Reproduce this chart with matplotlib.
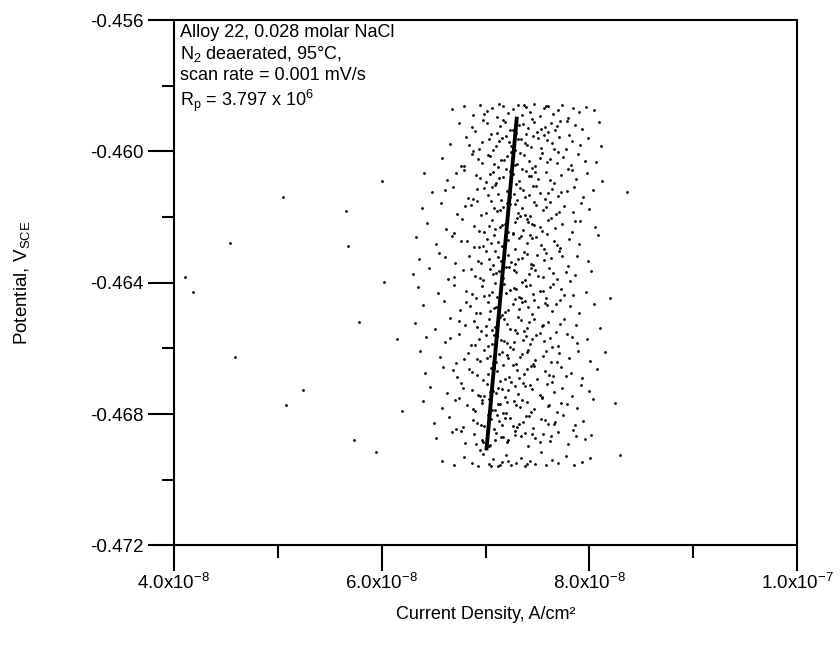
import matplotlib
matplotlib.use('Agg')
import matplotlib.pyplot as plt
from matplotlib.ticker import MultipleLocator

plt.rcParams['font.family'] = ['Liberation Sans', 'DejaVu Sans']
plt.rcParams['mathtext.default'] = 'regular'

# current density in 1e-8 A/cm2 and potential in mV(SCE)
cur_bands = [
    [6.68, 6.79, 6.88, 6.95, 7.01, 7.06, 7.11, 7.17, 7.22, 7.26, 7.31, 7.35, 7.39, 7.43, 7.47,
     7.52, 7.56, 7.60, 7.65, 7.70, 7.74, 7.79, 7.84, 7.90, 7.97, 8.04, 7.13, 7.37, 7.58, 6.99],
    [6.74, 6.90, 6.98, 7.05, 7.14, 7.19, 7.24, 7.29, 7.36, 7.41, 7.45, 7.50, 7.57, 7.63, 7.67, 7.72, 7.80, 7.86, 7.93, 8.09],
    [6.66, 6.81, 6.94, 7.03, 7.10, 7.16, 7.23, 7.28, 7.34, 7.40, 7.46, 7.53, 7.59, 7.64, 7.71, 7.77, 7.83, 7.91, 7.99, 6.88],
    [6.58, 6.76, 6.87, 6.97, 7.04, 7.12, 7.18, 7.25, 7.30, 7.37, 7.42, 7.48, 7.54, 7.62, 7.69, 7.75, 7.82, 7.89, 7.96, 8.06],
    [6.41, 6.63, 6.79, 6.91, 7.00, 7.07, 7.13, 7.20, 7.26, 7.32, 7.39, 7.44, 7.51, 7.58, 7.66, 7.73, 7.79, 7.87, 7.98, 8.12],
    [6.48, 6.69, 6.83, 6.92, 7.02, 7.09, 7.15, 7.21, 7.27, 7.33, 7.38, 7.46, 7.52, 7.57, 7.64, 7.70, 7.78, 7.85, 7.94, 8.03],
    [6.39, 6.57, 6.73, 6.86, 6.96, 7.05, 7.11, 7.17, 7.24, 7.31, 7.35, 7.43, 7.49, 7.55, 7.62, 7.68, 7.76, 7.84, 7.92, 8.00],
    [6.44, 6.62, 6.77, 6.89, 6.99, 7.06, 7.14, 7.19, 7.26, 7.30, 7.36, 7.41, 7.47, 7.54, 7.60, 7.67, 7.74, 7.83, 7.91, 8.05],
    [6.33, 6.52, 6.68, 6.82, 6.94, 7.01, 7.08, 7.16, 7.22, 7.28, 7.34, 7.40, 7.45, 7.53, 7.59, 7.66, 7.72, 7.80, 7.90, 8.08],
    [6.36, 6.55, 6.71, 6.84, 6.93, 7.00, 7.07, 7.12, 7.18, 7.25, 7.31, 7.37, 7.44, 7.50, 7.56, 7.63, 7.71, 7.79, 7.88, 7.99],
    [6.30, 6.46, 6.64, 6.78, 6.90, 6.98, 7.04, 7.10, 7.17, 7.23, 7.29, 7.35, 7.42, 7.48, 7.55, 7.61, 7.69, 7.77, 7.86, 8.02],
    [6.35, 6.54, 6.70, 6.81, 6.91, 6.97, 7.03, 7.09, 7.15, 7.20, 7.27, 7.32, 7.39, 7.46, 7.52, 7.58, 7.65, 7.73, 7.84, 7.97],
    [6.40, 6.60, 6.75, 6.85, 6.95, 7.02, 7.08, 7.13, 7.19, 7.26, 7.32, 7.38, 7.45, 7.51, 7.57, 7.64, 7.72, 7.81, 7.90, 8.04],
    [6.32, 6.51, 6.66, 6.80, 6.89, 6.96, 7.03, 7.09, 7.14, 7.21, 7.28, 7.34, 7.40, 7.47, 7.54, 7.60, 7.68, 7.76, 7.87, 8.10],
    [6.43, 6.61, 6.74, 6.86, 6.94, 7.00, 7.06, 7.11, 7.18, 7.24, 7.30, 7.36, 7.43, 7.49, 7.56, 7.62, 7.70, 7.78, 7.88, 7.98],
    [6.37, 6.56, 6.72, 6.83, 6.92, 6.99, 7.04, 7.10, 7.16, 7.22, 7.29, 7.35, 7.41, 7.48, 7.55, 7.63, 7.71, 7.80, 7.89, 8.01],
    [6.42, 6.59, 6.73, 6.84, 6.92, 6.98, 7.05, 7.11, 7.17, 7.23, 7.30, 7.37, 7.44, 7.50, 7.57, 7.65, 7.73, 7.82, 7.93, 8.07],
    [6.47, 6.63, 6.76, 6.87, 6.95, 7.01, 7.07, 7.12, 7.19, 7.25, 7.31, 7.38, 7.45, 7.52, 7.59, 7.66, 7.74, 7.83, 7.92, 8.00],
    [6.40, 6.58, 6.71, 6.82, 6.90, 6.97, 7.03, 7.09, 7.14, 7.20, 7.27, 7.33, 7.40, 7.47, 7.54, 7.61, 7.69, 7.78, 7.88, 8.03],
    [6.50, 6.65, 6.78, 6.88, 6.96, 7.02, 7.08, 7.13, 7.19, 7.26, 7.32, 7.39, 7.46, 7.53, 7.60, 7.67, 7.75, 7.84, 7.94, 7.86],
    [6.52, 6.68, 6.80, 6.89, 6.97, 7.04, 7.10, 7.15, 7.21, 7.28, 7.34, 7.41, 7.48, 7.55, 7.62, 7.70, 7.79, 7.87, 7.96, 8.02],
    [6.58, 6.70, 6.79, 6.87, 6.93, 6.98, 7.03, 7.07, 7.12, 7.16, 7.20, 7.25, 7.29, 7.34, 7.38,
     7.43, 7.48, 7.53, 7.58, 7.64, 7.70, 7.77, 7.85, 7.93, 8.01, 7.05, 7.22, 7.40, 6.95, 7.14],
    # denser points near the middle of the cloud
    [6.87, 7.01, 7.11, 7.17, 7.26, 7.32, 7.39, 7.47, 7.53, 7.60, 7.69, 7.78],
    [7.20, 6.97, 7.44, 7.07, 7.31, 7.56, 6.84, 7.13, 7.66, 7.38, 7.25, 7.51],
    [7.08, 7.33, 6.93, 7.45, 7.21, 7.59, 6.79, 7.15, 7.70, 7.28, 7.52, 7.02],
    [7.24, 6.95, 7.42, 7.10, 7.35, 6.72, 7.62, 7.17, 7.48, 7.04, 7.29, 7.83],
    [7.12, 7.36, 6.88, 7.49, 7.24, 7.60, 6.99, 7.30, 7.73, 7.06, 7.42, 6.61],
    [7.28, 7.00, 7.47, 7.14, 7.38, 6.80, 7.58, 7.21, 7.71, 6.92, 7.33, 7.08],
    [7.16, 7.40, 6.94, 7.52, 7.28, 6.70, 7.63, 7.09, 7.45, 7.22, 7.86, 7.03],
    [7.19, 6.89, 7.43, 7.05, 7.32, 7.56, 6.76, 7.26, 7.69, 7.12, 7.49, 6.98],
    [7.22, 6.96, 7.35, 7.09, 7.46, 6.61, 7.58, 7.15, 7.74, 7.28, 7.03, 7.40],
    [7.13, 7.38, 6.86, 7.51, 7.20, 7.65, 6.95, 7.27, 7.81, 7.07, 7.44, 6.70],
    [7.24, 6.99, 7.43, 7.06, 7.34, 7.62, 6.87, 7.18, 7.55, 7.11, 7.29, 7.76],
    [7.10, 7.35, 6.91, 7.47, 7.22, 7.59, 6.81, 7.16, 7.68, 7.04, 7.41, 7.28],
    [7.18, 6.92, 7.42, 7.06, 7.31, 7.55, 6.74, 7.24, 7.72, 7.12, 7.37, 7.00],
    [7.15, 7.39, 6.90, 7.52, 7.27, 6.66, 7.64, 7.08, 7.45, 7.21, 7.83, 7.02],
    [7.21, 6.95, 7.40, 7.07, 7.33, 7.58, 6.79, 7.13, 7.69, 7.26, 7.01, 7.46],
    [7.08, 7.32, 6.87, 7.47, 7.19, 7.61, 6.69, 7.26, 7.77, 7.02, 7.40, 7.14],
    [7.16, 6.93, 7.36, 7.04, 7.28, 7.54, 6.78, 7.10, 7.64, 7.22, 7.43, 6.99],
    [7.12, 7.35, 6.88, 7.44, 7.21, 7.60, 6.74, 7.06, 7.73, 7.17, 7.29, 6.97],
    [7.05, 7.30, 6.92, 7.42, 7.16, 7.57, 6.72, 7.11, 7.66, 7.24, 6.99, 7.36],
    [7.09, 7.28, 6.91, 7.38, 7.17, 7.52, 6.76, 7.03, 7.63, 7.22, 7.45, 6.98],
    # stray points away from the main cloud
    [4.54, 4.11, 4.18, 4.59, 5.05, 5.08, 5.24, 5.66, 5.68, 5.78, 5.73, 6.02, 6.00, 5.95,
     8.36, 8.20, 8.25, 8.29, 8.11, 6.15, 6.20, 8.15],
]
pot_bands = [
    [-458.71, -458.62, -458.90, -458.58, -458.77, -458.66, -458.95, -458.60, -458.83, -458.69,
     -458.57, -458.88, -458.64, -458.79, -458.55, -458.92, -458.68, -458.61, -458.85, -458.73,
     -458.59, -458.97, -458.66, -458.80, -458.63, -458.74, -458.56, -458.58, -458.62, -458.86],
    [-459.12, -459.38, -459.05, -459.47, -459.21, -459.09, -459.33, -459.44, -459.16, -459.28,
     -459.02, -459.41, -459.24, -459.13, -459.36, -459.07, -459.49, -459.19, -459.30, -459.10],
    [-459.77, -459.55, -459.91, -459.63, -459.84, -459.58, -459.70, -459.96, -459.61, -459.79,
     -459.52, -459.88, -459.66, -459.74, -459.57, -459.93, -459.69, -459.81, -459.60, -459.99],
    [-460.21, -460.43, -460.08, -460.34, -460.15, -460.47, -460.26, -460.03, -460.39, -460.12,
     -460.30, -460.45, -460.06, -460.24, -460.36, -460.18, -460.41, -460.09, -460.28, -460.33],
    [-460.66, -460.88, -460.55, -460.73, -460.94, -460.61, -460.80, -460.52, -460.69, -460.91,
     -460.58, -460.76, -460.85, -460.63, -460.97, -460.71, -460.54, -460.83, -460.67, -460.90],
    [-461.24, -461.07, -461.42, -461.15, -461.33, -461.02, -461.48, -461.19, -461.29, -461.11,
     -461.38, -461.05, -461.26, -461.45, -461.13, -461.35, -461.21, -461.09, -461.40, -461.17],
    [-461.73, -461.56, -461.89, -461.64, -461.95, -461.52, -461.81, -461.68, -461.59, -461.86,
     -461.71, -461.98, -461.62, -461.78, -461.54, -461.92, -461.66, -461.83, -461.57, -461.75],
    [-462.18, -462.36, -462.05, -462.27, -462.44, -462.10, -462.31, -462.22, -462.48, -462.03,
     -462.39, -462.14, -462.25, -462.42, -462.08, -462.33, -462.20, -462.46, -462.12, -462.29],
    [-462.61, -462.83, -462.57, -462.74, -462.92, -462.66, -462.53, -462.88, -462.70, -462.96,
     -462.59, -462.78, -462.64, -462.86, -462.52, -462.72, -462.94, -462.68, -462.81, -462.55],
    [-463.27, -463.09, -463.41, -463.18, -463.33, -463.04, -463.46, -463.22, -463.12, -463.38,
     -463.29, -463.06, -463.44, -463.16, -463.31, -463.24, -463.02, -463.49, -463.20, -463.35],
    [-463.72, -463.55, -463.88, -463.61, -463.79, -463.93, -463.58, -463.70, -463.85, -463.52,
     -463.66, -463.97, -463.74, -463.60, -463.83, -463.56, -463.90, -463.68, -463.76, -463.63],
    [-464.14, -464.32, -464.07, -464.26, -464.45, -464.11, -464.38, -464.02, -464.21, -464.30,
     -464.16, -464.43, -464.09, -464.34, -464.24, -464.48, -464.05, -464.19, -464.36, -464.28],
    [-464.68, -464.55, -464.84, -464.71, -464.93, -464.59, -464.77, -464.52, -464.89, -464.64,
     -464.80, -464.57, -464.96, -464.73, -464.62, -464.86, -464.53, -464.70, -464.91, -464.66],
    [-465.23, -465.41, -465.06, -465.30, -465.17, -465.47, -465.12, -465.35, -465.03, -465.26,
     -465.44, -465.15, -465.38, -465.09, -465.32, -465.20, -465.49, -465.11, -465.28, -465.37],
    [-465.64, -465.82, -465.55, -465.91, -465.70, -465.58, -465.86, -465.62, -465.77, -465.95,
     -465.53, -465.73, -465.88, -465.60, -465.79, -465.67, -465.94, -465.57, -465.84, -465.71],
    [-466.09, -466.27, -466.44, -466.15, -466.33, -466.04, -466.22, -466.40, -466.12, -466.30,
     -466.47, -466.18, -466.06, -466.36, -466.24, -466.42, -466.13, -466.29, -466.08, -466.38],
    [-466.74, -466.56, -466.88, -466.63, -466.81, -466.95, -466.60, -466.70, -466.52, -466.86,
     -466.67, -466.78, -466.54, -466.92, -466.69, -466.83, -466.58, -466.75, -466.90, -466.64],
    [-467.18, -467.36, -467.05, -467.27, -467.44, -467.10, -467.31, -467.22, -467.48, -467.03,
     -467.39, -467.14, -467.25, -467.42, -467.08, -467.33, -467.20, -467.46, -467.12, -467.29],
    [-467.61, -467.83, -467.57, -467.74, -467.92, -467.66, -467.53, -467.88, -467.70, -467.96,
     -467.59, -467.78, -467.64, -467.86, -467.52, -467.72, -467.94, -467.68, -467.81, -467.55],
    [-468.27, -468.09, -468.41, -468.18, -468.33, -468.04, -468.46, -468.22, -468.12, -468.38,
     -468.29, -468.06, -468.44, -468.16, -468.31, -468.24, -468.02, -468.49, -468.20, -468.35],
    [-468.72, -468.55, -468.88, -468.61, -468.79, -468.93, -468.58, -468.70, -468.85, -468.52,
     -468.66, -468.97, -468.74, -468.60, -468.83, -468.56, -468.90, -468.68, -468.76, -468.63],
    [-469.42, -469.55, -469.30, -469.48, -469.58, -469.21, -469.52, -469.38, -469.57, -469.45,
     -469.26, -469.54, -469.49, -469.33, -469.58, -469.44, -469.52, -469.16, -469.56, -469.40,
     -469.50, -469.28, -469.55, -469.46, -469.35, -469.59, -469.43, -469.51, -469.11, -469.56],
    [-459.26, -459.14, -459.43, -459.04, -459.35, -459.20, -459.47, -459.10, -459.31, -459.40, -459.22, -459.06],
    [-459.54, -459.72, -459.86, -459.95, -459.63, -459.51, -459.80, -459.68, -459.92, -459.74, -459.83, -459.59],
    [-460.37, -460.05, -460.22, -460.49, -460.13, -460.31, -460.44, -460.27, -460.01, -460.40, -460.19, -460.10],
    [-460.59, -460.82, -460.74, -460.95, -460.53, -460.66, -460.87, -460.78, -460.62, -460.70, -460.99, -460.57],
    [-461.31, -461.18, -461.46, -461.04, -461.39, -461.27, -461.12, -461.49, -461.22, -461.08, -461.34, -461.16],
    [-461.60, -461.88, -461.53, -461.77, -461.94, -461.66, -461.70, -461.58, -461.84, -461.51, -461.97, -461.73],
    [-462.24, -462.07, -462.41, -462.30, -462.16, -462.47, -462.02, -462.35, -462.21, -462.45, -462.12, -462.28],
    [-462.69, -462.91, -462.55, -462.80, -462.63, -462.97, -462.74, -462.51, -462.86, -462.77, -462.60, -462.89],
    [-463.14, -463.39, -463.26, -463.03, -463.47, -463.21, -463.08, -463.34, -463.17, -463.43, -463.29, -463.11],
    [-463.64, -463.91, -463.57, -463.78, -463.52, -463.69, -463.86, -463.61, -463.95, -463.74, -463.55, -463.82],
    [-464.22, -464.40, -464.08, -464.29, -464.47, -464.13, -464.35, -464.03, -464.25, -464.44, -464.18, -464.37],
    [-464.75, -464.60, -464.92, -464.54, -464.82, -464.69, -464.58, -464.97, -464.64, -464.87, -464.73, -464.51],
    [-465.10, -465.36, -465.21, -465.45, -465.04, -465.29, -465.16, -465.40, -465.25, -465.08, -465.48, -465.33],
    [-465.75, -465.61, -465.89, -465.54, -465.81, -465.68, -465.96, -465.59, -465.72, -465.85, -465.65, -465.92],
    [-466.20, -466.38, -466.11, -466.45, -466.26, -466.07, -466.33, -466.16, -466.42, -466.02, -466.29, -466.49],
    [-466.61, -466.89, -466.72, -466.55, -466.94, -466.80, -466.66, -466.51, -466.85, -466.77, -466.63, -466.98],
    [-467.24, -467.41, -467.07, -467.32, -467.15, -467.47, -467.20, -467.37, -467.02, -467.28, -467.11, -467.44],
    [-467.69, -467.56, -467.84, -467.93, -467.62, -467.77, -467.51, -467.89, -467.67, -467.98, -467.74, -467.58],
    [-468.15, -468.40, -468.26, -468.07, -468.34, -468.19, -468.45, -468.03, -468.29, -468.12, -468.38, -468.23],
    [-468.80, -468.64, -468.92, -468.57, -468.71, -468.86, -468.53, -468.96, -468.68, -468.78, -468.61, -468.84],
    [-462.78, -463.81, -464.27, -466.27, -461.38, -467.73, -467.28, -461.81, -462.87, -465.21,
     -468.80, -463.99, -460.89, -469.16, -461.23, -464.48, -467.67, -469.25, -459.83, -465.70,
     -467.90, -466.10],
]

# linear polarisation fit line (end points)
fit_cur = [7.01, 7.30]
fit_pot = [-469.05, -459.0]

xtick_vals = [4e-8, 6e-8, 8e-8, 1e-7]
xtick_labels = ['4.0x10$^{-8}$', '6.0x10$^{-8}$', '8.0x10$^{-8}$', '1.0x10$^{-7}$']
ytick_vals = [-0.472, -0.468, -0.464, -0.460, -0.456]
ytick_labels = ['-0.472', '-0.468', '-0.464', '-0.460', '-0.456']

info_lines = ['Alloy 22, 0.028 molar NaCl',
              'N$_2$ deaerated, 95\u00b0C,',
              'scan rate = 0.001 mV/s',
              'R$_p$ = 3.797 x 10$^6$']

cur = []
pot = []
for cb, pb in zip(cur_bands, pot_bands):
    for c, p in zip(cb, pb):
        cur.append(c * 1e-8)
        pot.append(p / 1000.0)

fig = plt.figure(figsize=(8.4, 6.53), dpi=100)
ax = fig.add_axes([0.207, 0.165, 0.742, 0.804])

ax.plot(cur, pot, 'o', ms=2.0, color='black', mec='none')
ax.plot([c * 1e-8 for c in fit_cur], [p / 1000.0 for p in fit_pot], '-', color='black', lw=2.8)

ax.set_xlim(4e-8, 1e-7)
ax.set_ylim(-0.472, -0.456)
ax.set_xticks(xtick_vals)
ax.set_xticklabels(xtick_labels)
ax.set_yticks(ytick_vals)
ax.set_yticklabels(ytick_labels)
ax.xaxis.set_minor_locator(MultipleLocator(1e-8))
ax.yaxis.set_minor_locator(MultipleLocator(0.002))
ax.tick_params(which='major', direction='out', length=19, width=1.5, labelsize=13.5)
ax.tick_params(which='minor', direction='out', length=9, width=1.5)
ax.tick_params(axis='x', pad=1)
ax.tick_params(axis='y', pad=3)
for s in ax.spines.values():
    s.set_linewidth(1.5)

ax.set_xlabel('Current Density, A/cm\u00b2', fontsize=13, labelpad=9)
ax.set_ylabel('Potential, V$_{SCE}$', fontsize=13.5)
ax.yaxis.set_label_coords(-0.228, 0.5)

ax.text(0.01, 0.993, '\n'.join(info_lines), transform=ax.transAxes, ha='left', va='top',
        fontsize=13, linespacing=1.22)

fig.savefig('out.png', dpi=100)
